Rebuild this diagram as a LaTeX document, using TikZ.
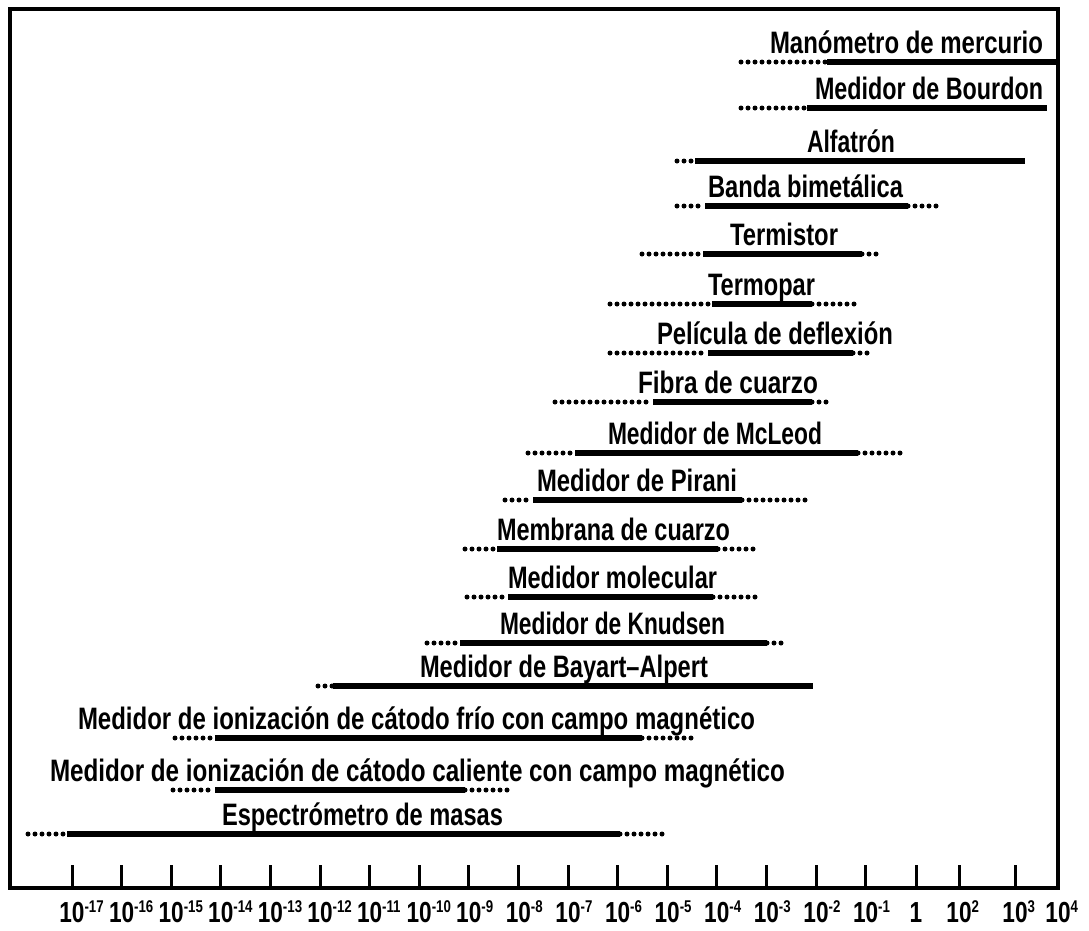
\documentclass[tikz,border=0pt]{standalone}
\usepackage{fontspec}
\newfontfamily\gfont{Liberation Sans}[BoldFont={* Bold}]
\newlength\fitw
% set a text horizontally squeezed to a given width (in pt)
\newcommand\fitto[2]{\settowidth\fitw{#2}\pgfmathsetmacro\fitfac{#1/\fitw}\scalebox{\fitfac}[1]{#2}}
\newcommand\expo[1]{\raisebox{10pt}{\fontsize{17}{17}\selectfont #1}}
\newcommand\tlab[1]{\scalebox{0.78}[1]{\hphantom{\expo{#1}}10\expo{#1}}}
\begin{document}
\begin{tikzpicture}[x=1pt,y=-1pt,
  frame/.style={line width=3.5pt},
  tickmark/.style={line width=3pt},
  solidbar/.style={line width=5.5pt},
  dotbar/.style={line width=5pt, line cap=round, dash pattern=on 0pt off 7pt},
  lab/.style={font={\gfont\bfseries\fontsize{31}{32}\selectfont}, anchor=base, inner sep=0pt},
  ticklab/.style={font={\gfont\bfseries\fontsize{29}{30}\selectfont}, anchor=base, inner sep=0pt}]
\useasboundingbox (0,0) rectangle (1089,930);
\fill[white] (0,0) rectangle (1089,930);

% frame and pressure axis
\draw[frame] (10,9) rectangle (1058,888);
\foreach \x/\e [count=\i] in {72/-17,121.6/-16,171.2/-15,220.8/-14,270.4/-13,320/-12,
  369.6/-11,419.2/-10,468.8/-9,518.4/-8,568/-7,617.6/-6,667.2/-5,716.8/-4,766.4/-3,816/-2,865.6/-1}{
  \draw[tickmark] (\x,865) -- (\x,888);
  \node[ticklab] (tick\i) at (\x,922) {\tlab{\e}};
}
\foreach \x in {916,959,1015}{\draw[tickmark] (\x,865) -- (\x,888);}
\node[ticklab] (tick18) at (916,922) {\scalebox{0.78}[1]{1}};
\node[ticklab] (tick19) at (959,922) {\tlab{2}};
\node[ticklab] (tick20) at (1015,922) {\tlab{3}};
\node[ticklab] (tick21) at (1058,922) {\tlab{4}};

% gauge ranges: dotted = extended range, solid = usual range
\node[lab] (manometro) at (906.5,53) {\fitto{273}{Manómetro de mercurio}};
\draw[dotbar] (741,62) -- (827,62);
\draw[solidbar] (827,62) -- (1058,62);

\node[lab] (bourdon) at (929,99) {\fitto{228}{Medidor de Bourdon}};
\draw[dotbar] (741,108) -- (807,108);
\draw[solidbar] (807,108) -- (1047,108);

\node[lab] (alfatron) at (851,152) {\fitto{88}{Alfatrón}};
\draw[dotbar] (677,161) -- (695,161);
\draw[solidbar] (695,161) -- (1025,161);

\node[lab] (bimetal) at (805.5,197) {\fitto{195}{Banda bimetálica}};
\draw[dotbar] (677,206) -- (705,206);
\draw[solidbar] (705,206) -- (908,206);
\draw[dotbar] (908,206) -- (940,206);

\node[lab] (termistor) at (784,245) {\fitto{108}{Termistor}};
\draw[dotbar] (642,254) -- (703,254);
\draw[solidbar] (703,254) -- (862,254);
\draw[dotbar] (862,254) -- (880,254);

\node[lab] (termopar) at (761.5,295) {\fitto{107}{Termopar}};
\draw[dotbar] (610,304) -- (712,304);
\draw[solidbar] (712,304) -- (812,304);
\draw[dotbar] (812,304) -- (858,304);

\node[lab] (pelicula) at (775,344) {\fitto{236}{Película de deflexión}};
\draw[dotbar] (610,353) -- (708,353);
\draw[solidbar] (708,353) -- (853,353);
\draw[dotbar] (853,353) -- (870,353);

\node[lab] (fibra) at (728,393) {\fitto{180}{Fibra de cuarzo}};
\draw[dotbar] (555,402) -- (653,402);
\draw[solidbar] (653,402) -- (812,402);
\draw[dotbar] (812,402) -- (828,402);

\node[lab] (mcleod) at (715,444) {\fitto{214}{Medidor de McLeod}};
\draw[dotbar] (528,453) -- (575,453);
\draw[solidbar] (575,453) -- (858,453);
\draw[dotbar] (858,453) -- (903,453);

\node[lab] (pirani) at (637,491) {\fitto{200}{Medidor de Pirani}};
\draw[dotbar] (505,500) -- (533,500);
\draw[solidbar] (533,500) -- (742,500);
\draw[dotbar] (742,500) -- (812,500);

\node[lab] (membrana) at (613.5,540) {\fitto{233}{Membrana de cuarzo}};
\draw[dotbar] (465,549) -- (497,549);
\draw[solidbar] (497,549) -- (718,549);
\draw[dotbar] (718,549) -- (760,549);

\node[lab] (molecular) at (612.5,588) {\fitto{209}{Medidor molecular}};
\draw[dotbar] (467,597) -- (508,597);
\draw[solidbar] (508,597) -- (713,597);
\draw[dotbar] (713,597) -- (760,597);

\node[lab] (knudsen) at (612.5,634) {\fitto{225}{Medidor de Knudsen}};
\draw[dotbar] (427,643) -- (460,643);
\draw[solidbar] (460,643) -- (767,643);
\draw[dotbar] (767,643) -- (787,643);

\node[lab] (bayart) at (564,677) {\fitto{288}{Medidor de Bayart–Alpert}};
\draw[dotbar] (318,686) -- (333,686);
\draw[solidbar] (333,686) -- (813,686);

\node[lab] (frio) at (416.5,729) {\fitto{677}{Medidor de ionización de cátodo frío con campo magnético}};
\draw[dotbar] (175,738) -- (215,738);
\draw[solidbar] (215,738) -- (642,738);
\draw[dotbar] (642,738) -- (692,738);

\node[lab] (caliente) at (417.5,781) {\fitto{735}{Medidor de ionización de cátodo caliente con campo magnético}};
\draw[dotbar] (173,790) -- (215,790);
\draw[solidbar] (215,790) -- (465,790);
\draw[dotbar] (465,790) -- (512,790);

\node[lab] (espectrometro) at (362.5,825) {\fitto{281}{Espectrómetro de masas}};
\draw[dotbar] (28,834) -- (67,834);
\draw[solidbar] (67,834) -- (620,834);
\draw[dotbar] (620,834) -- (668,834);
\end{tikzpicture}
\end{document}
